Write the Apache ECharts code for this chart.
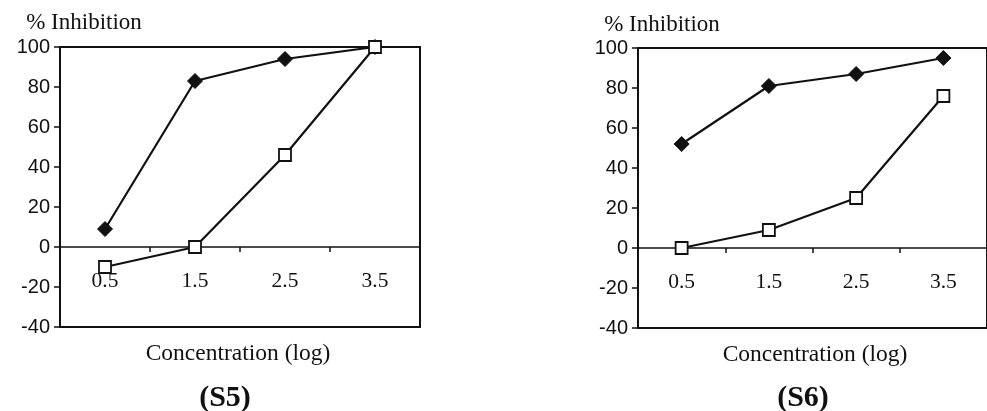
<!DOCTYPE html>
<html>
<head>
<meta charset="utf-8">
<script src="https://cdn.jsdelivr.net/npm/echarts@6/dist/echarts.min.js"></script>
<style>
  html, body { margin: 0; padding: 0; background: #ffffff; }
  #chart { width: 987px; height: 411px; }
</style>
</head>
<body>
<div id="chart"></div>
<script>
// Concentration levels (log scale) shared by both panels
const categories = ['0.5', '1.5', '2.5', '3.5'];

// Panel S5: % inhibition
const s5Filled = [9, 83, 94, 100];
const s5Open = [-10, 0, 46, 100];

// Panel S6: % inhibition
const s6Filled = [52, 81, 87, 95];
const s6Open = [0, 9, 25, 76];

// Value axis range
const yMin = -40;
const yMax = 100;
const yStep = 20;

const ink = '#111111';
const serif = '"Liberation Serif", "Times New Roman", serif';
const sans = '"Liberation Sans", Arial, sans-serif';

const panels = [
  { left: 60, top: 47, filled: s5Filled, open: s5Open },
  { left: 638, top: 48, filled: s6Filled, open: s6Open }
];

const grids = [], xAxes = [], yAxes = [], series = [];
panels.forEach((p, i) => {
  grids.push({
    left: p.left, top: p.top, width: 360, height: 280,
    show: true, borderColor: ink, borderWidth: 2, backgroundColor: 'transparent'
  });
  xAxes.push({
    type: 'category', gridIndex: i, data: categories, boundaryGap: true,
    axisLine: { onZero: true, lineStyle: { color: ink, width: 1.5 } },
    axisTick: { show: true, length: 5, lineStyle: { color: ink, width: 1.5 } },
    // category labels sit just under the zero line
    axisLabel: { margin: -57, color: ink, fontFamily: serif, fontSize: 21.5 },
    splitLine: { show: false }
  });
  yAxes.push({
    type: 'value', gridIndex: i, min: yMin, max: yMax, interval: yStep,
    axisLine: { show: true, lineStyle: { color: ink, width: 2 } },
    axisTick: { show: true, length: 6, lineStyle: { color: ink, width: 1.5 } },
    axisLabel: { margin: 10, color: ink, fontFamily: sans, fontSize: 20 },
    splitLine: { show: false }
  });
  series.push({
    type: 'line', xAxisIndex: i, yAxisIndex: i, data: p.filled,
    symbol: 'diamond', symbolSize: 15,
    lineStyle: { color: ink, width: 2.2 },
    itemStyle: { color: ink, borderColor: ink, borderWidth: 1 },
    animation: false
  });
  series.push({
    type: 'line', xAxisIndex: i, yAxisIndex: i, data: p.open,
    symbol: 'rect', symbolSize: 12,
    lineStyle: { color: ink, width: 2.2 },
    itemStyle: { color: '#ffffff', borderColor: ink, borderWidth: 1.8 },
    animation: false
  });
});

function label(text, x, y, size, weight) {
  return {
    type: 'text', x: x, y: y,
    style: {
      text: text, fill: ink, font: (weight || 'normal') + ' ' + size + 'px ' + serif,
      align: 'center', verticalAlign: 'middle'
    }
  };
}

const chart = echarts.init(document.getElementById('chart'));
chart.setOption({
  backgroundColor: '#ffffff',
  animation: false,
  grid: grids,
  xAxis: xAxes,
  yAxis: yAxes,
  series: series,
  graphic: [
    label('% Inhibition', 84, 23, 23),
    label('Concentration (log)', 238, 354, 23.5),
    label('(S5)', 225, 398, 30, 'bold'),
    label('% Inhibition', 662, 25, 23),
    label('Concentration (log)', 815, 355, 23.5),
    label('(S6)', 803, 398, 30, 'bold')
  ]
});
</script>
</body>
</html>
